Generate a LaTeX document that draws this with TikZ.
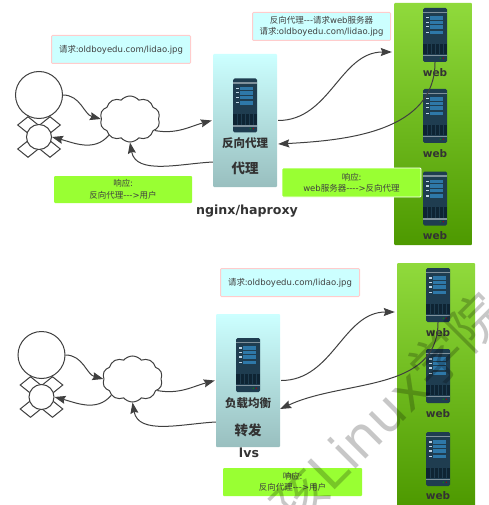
\documentclass[tikz,border=0pt]{standalone}
\usepackage{fontspec}
\setmainfont{DejaVu Sans}
\newfontfamily\cjk{Noto Sans CJK SC}
\usetikzlibrary{shapes.symbols, shapes.geometric, arrows.meta}
\definecolor{paneltop}{HTML}{CCFFFF}
\definecolor{panelbot}{HTML}{99BFBF}
\definecolor{webtop}{HTML}{90DA3C}
\definecolor{webbot}{HTML}{4D9900}
\definecolor{notegreen}{HTML}{99FF33}
\definecolor{notepink}{HTML}{FFCCCC}
\definecolor{inktext}{HTML}{404040}
\definecolor{rackbody}{HTML}{1F3D50}
\definecolor{rackdark}{HTML}{0E2433}
\definecolor{rackblue}{HTML}{2E78A8}
\definecolor{rackrail}{HTML}{7F919C}
\tikzstyle{reqnote} = [rectangle, rounded corners=1pt, draw=notepink, line width=1pt, fill=paneltop, text=inktext, align=center, font=\fontsize{8.5}{11.5}\selectfont, inner sep=0pt]
\tikzstyle{respnote} = [rectangle, rounded corners=1pt, fill=notegreen, text=inktext, align=center, font=\fontsize{8.5}{11.5}\selectfont, inner sep=0pt]
\tikzstyle{proxybox} = [rectangle, rounded corners=1pt, minimum width=64pt, minimum height=133pt, top color=paneltop, bottom color=panelbot, inner sep=0pt]
\tikzstyle{webbox} = [rectangle, rounded corners=1pt, minimum width=78pt, top color=webtop, bottom color=webbot, inner sep=0pt]
\tikzstyle{label} = [text=inktext!80!black, font=\bfseries\fontsize{10.5}{12}\selectfont, inner sep=0pt]
\tikzstyle{biglabel} = [text=inktext!80!black, font=\bfseries\fontsize{12.6}{14}\selectfont, inner sep=0pt]
\tikzstyle{head} = [circle, draw=inktext, line width=1pt, fill=white, inner sep=0pt]
\tikzstyle{limb} = [diamond, draw=inktext, line width=1pt, fill=white, minimum width=21pt, minimum height=17pt, inner sep=0pt]
\tikzstyle{net} = [cloud, cloud puffs=10, cloud puff arc=100, aspect=1.3, draw=inktext, line width=1pt, fill=white, minimum width=60pt, minimum height=46pt, inner sep=0pt]
\tikzstyle{arrow} = [draw=inktext, line width=1pt, -{Stealth[length=11pt,width=8pt,inset=1.5pt]}]
\tikzstyle{rack} = [rectangle, rounded corners=1.5pt, fill=rackbody, minimum width=24pt, minimum height=54pt, inner sep=0pt]
\tikzstyle{stampmark} = [text=black, opacity=0.22, font=\fontsize{53}{56}\selectfont, inner sep=0pt]
% one server drawn on a rack node
\newcommand{\serverunit}[2]{
	\node (#1) [rack] at (#2) {};
	\fill[rackrail] ([yshift=-4pt]#1.north west) rectangle ([yshift=-5.5pt]#1.north east);
	\fill[rackrail] ([yshift=6pt]#1.south west) rectangle ([yshift=7.5pt]#1.south east);
	\fill[rackdark] ([yshift=8pt]#1.south west) rectangle ([yshift=18.5pt]#1.south east);
	\foreach \c in {4,8,12,16,20}
		\draw[rackbody, line width=0.3pt] ([xshift=\c pt,yshift=8pt]#1.south west) -- ([xshift=\c pt,yshift=18.5pt]#1.south west);
	\foreach \r in {8.5,13,17.5,23} {
		\fill[rackblue] ([xshift=7pt,yshift=-\r pt]#1.north west) rectangle ([xshift=20.5pt,yshift=-\r pt-3.5pt]#1.north west);
		\fill[white!70!rackblue] ([xshift=3.5pt,yshift=-\r pt-1pt]#1.north west) rectangle ([xshift=6.5pt,yshift=-\r pt-2.2pt]#1.north west);
	}
	\fill[green!60!black] ([xshift=17.5pt,yshift=4pt]#1.south west) circle (0.7pt);
	\fill[red!70!black] ([xshift=20.5pt,yshift=4pt]#1.south west) circle (0.7pt);
}
\begin{document}
\begin{tikzpicture}[x=1pt,y=-1pt]
	\useasboundingbox (0,0) rectangle (488,505);

	% nginx/haproxy
	\node (topweb) [webbox, minimum height=242pt] at (433,124) {};
	\node (topreq) [reqnote, minimum width=139pt, minimum height=28pt] at (121,49.5) {{\cjk 请求:}oldboyedu.com/lidao.jpg};
	\node (topfwd) [reqnote, minimum width=138pt, minimum height=28pt] at (321.5,26.5) {{\cjk 反向代理}-{}-{}-{\cjk 请求}web{\cjk 服务器}\\{\cjk 请求:}oldboyedu.com/lidao.jpg};
	\node (topresp) [respnote, minimum width=138pt, minimum height=27pt] at (123,189.5) {{\cjk 响应:}\\{\cjk 反向代理}-{}-{}->{\cjk 用户}};
	\node (topback) [respnote, draw=white, line width=0.8pt, minimum width=139pt, minimum height=29pt] at (351.5,182.5) {{\cjk 响应:}\\web{\cjk 服务器}-{}-{}-{}->{\cjk 反向代理}};
	\node (topproxy) [proxybox] at (245,120.5) {};
	\serverunit{toprack}{245,105.5}
	\node (topproxyname) [label] at (245,143.5) {\cjk\bfseries\fontsize{11.5}{12}\selectfont 反向代理};
	\node (topproxykind) [biglabel] at (245,168) {\cjk\bfseries\fontsize{13.5}{14}\selectfont 代理};
	\node (topsoft) [biglabel] at (247,211) {nginx/haproxy};
	\serverunit{topa}{435,35}
	\node (topatext) [label] at (435,72.5) {web};
	\serverunit{topb}{435,116}
	\node (topbtext) [label] at (435,153.5) {web};
	\serverunit{topc}{435,198.5}
	\node (topctext) [label] at (435,235.5) {web};

	\node (toplimba) [limb] at (28,125) {};
	\node (toplimbb) [limb] at (50,125) {};
	\node (toplimbc) [limb] at (28,149) {};
	\node (toplimbd) [limb] at (50,149) {};
	\node (tophead) [head, minimum size=47pt] at (39,95) {};
	\node (topbody) [head, minimum size=25pt] at (39,137) {};
	\node (topcloud) [net] at (130,119) {};

	\draw[arrow] (tophead.east) to[out=0,in=165] (topcloud.west);
	\draw[arrow] (topcloud.south west) to[out=-130,in=-15] (topbody.east);
	\draw[arrow] (topcloud.-25) to[out=-10,in=195] ([xshift=-1pt]topproxy.west);
	\draw[arrow] ([yshift=-41.5pt]topproxy.west) to[out=183,in=-80] (topcloud.south);
	\draw[arrow] ([xshift=1pt]topproxy.east) to[out=0,in=180] ([xshift=-2pt,yshift=72pt]topweb.west);
	\draw[arrow] (topa.south) to[out=-90,in=3] ([xshift=1pt,yshift=-23.5pt]topproxy.east);

	% lvs
	\node (lvsweb) [webbox, minimum height=244pt] at (436,385) {};
	\node (lvsreq) [reqnote, minimum width=139pt, minimum height=28pt] at (290,282.5) {{\cjk 请求:}oldboyedu.com/lidao.jpg};
	\node (lvsresp) [respnote, minimum width=139pt, minimum height=28pt] at (292.5,482) {{\cjk 响应:}\\{\cjk 反向代理}-{}-{}->{\cjk 用户}};
	\node (lvsproxy) [proxybox] at (248,380.5) {};
	\serverunit{lvsrack}{248,365}
	\node (lvsproxyname) [label] at (248,403.5) {\cjk\bfseries\fontsize{11.5}{12}\selectfont 负载均衡};
	\node (lvsproxykind) [biglabel] at (248,430) {\cjk\bfseries\fontsize{13.5}{14}\selectfont 转发};
	\node (lvssoft) [biglabel] at (249,453) {lvs};
	\serverunit{lvsa}{438,295}
	\node (lvsatext) [label] at (438,332.5) {web};
	\serverunit{lvsb}{438,376}
	\node (lvsbtext) [label] at (438,413.5) {web};
	\serverunit{lvsc}{438,459}
	\node (lvsctext) [label] at (438,496) {web};

	\node (lvslimba) [limb] at (30.5,385) {};
	\node (lvslimbb) [limb] at (52.5,385) {};
	\node (lvslimbc) [limb] at (30.5,409) {};
	\node (lvslimbd) [limb] at (52.5,409) {};
	\node (lvshead) [head, minimum size=47pt] at (41.5,355) {};
	\node (lvsbody) [head, minimum size=25pt] at (41.5,397) {};
	\node (lvscloud) [net] at (132.5,379) {};

	\draw[arrow] (lvshead.east) to[out=0,in=165] (lvscloud.west);
	\draw[arrow] (lvscloud.south west) to[out=-130,in=-15] (lvsbody.east);
	\draw[arrow] (lvscloud.-25) to[out=-10,in=195] ([xshift=-1pt]lvsproxy.west);
	\draw[arrow] ([yshift=-41.5pt]lvsproxy.west) to[out=183,in=-80] (lvscloud.south);
	\draw[arrow] ([xshift=1pt]lvsproxy.east) to[out=0,in=180] ([xshift=-2pt,yshift=73pt]lvsweb.west);
	\draw[arrow] (lvsa.south) to[out=-90,in=25] ([yshift=-28.5pt]lvsproxy.east);

	% watermark
	\node (stamp) [stampmark, rotate=45, anchor=base west] at (294,531) {{\cjk 孩}Linux{\cjk 学院}};
\end{tikzpicture}
\end{document}
